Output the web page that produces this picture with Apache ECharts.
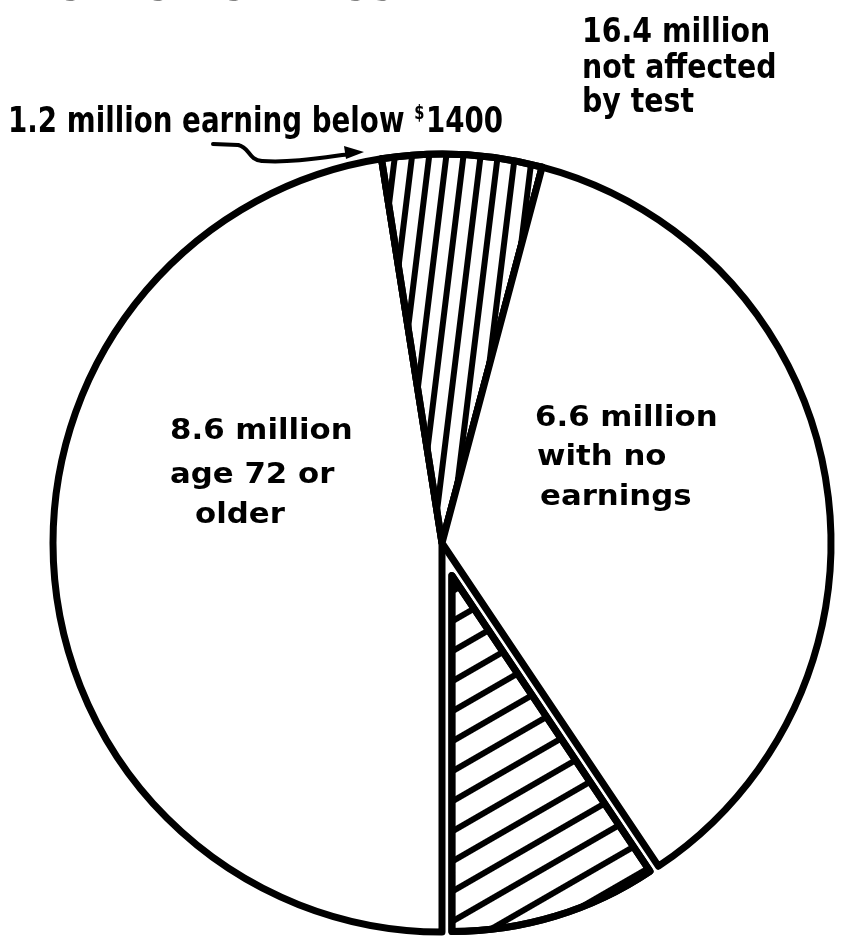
<!DOCTYPE html>
<html>
<head>
<meta charset="utf-8">
<script src="https://cdn.jsdelivr.net/npm/echarts@6/dist/echarts.min.js"></script>
<style>
html,body{margin:0;padding:0;background:#fff;}
#chart{width:842px;height:937px;}
</style>
</head>
<body>
<div id="chart"></div>
<script>
// ---- data ----
const categories = ['age 72 or older', 'earning below $1400', 'with no earnings', 'affected by test'];
const values = [8.6, 1.2, 6.6, 1.7];
const notAffectedTotal = 16.4;
const titleText = 'Retirement Test';
const label86 = ['8.6 million', 'age 72 or', 'older'];
const label66 = ['6.6 million', 'with no', 'earnings'];
const labelTotal = [notAffectedTotal + ' million', 'not affected', 'by test'];
const label12 = '1.2 million earning below ';
const label12Amount = '1400';

const chart = echarts.init(document.getElementById('chart'), null, {renderer: 'canvas'});

const FONT = 'DejaVu Sans';
const stripeTop = {symbol: 'rect', symbolSize: 1, symbolKeepAspect: false, color: '#000',
  dashArrayX: [1, 0], dashArrayY: [6, 11], rotation: -83 * Math.PI / 180};
const stripeBottom = {symbol: 'rect', symbolSize: 1, symbolKeepAspect: false, color: '#000',
  dashArrayX: [1, 0], dashArrayY: [6, 20], rotation: -30 * Math.PI / 180};

const border = {borderColor: '#000', borderWidth: 7, borderJoin: 'round'};
const hidden = {color: 'rgba(0,0,0,0)', borderWidth: 0};

const outerData = categories.map((c, i) => {
  const d = {name: c, value: values[i]};
  if (i === 3) d.itemStyle = hidden;
  else if (i === 1) d.itemStyle = Object.assign({color: '#fff', decal: stripeTop}, border);
  else d.itemStyle = Object.assign({color: '#fff'}, border);
  return d;
});
const innerData = categories.map((c, i) => {
  const d = {name: c, value: values[i]};
  if (i === 3) {
    d.itemStyle = Object.assign({color: '#fff', decal: stripeBottom}, border);
    d.selected = true;
  } else d.itemStyle = hidden;
  return d;
});

function textLines(lines, xs, ys, size, sx, weight) {
  return lines.map((t, i) => ({
    type: 'text', x: xs[i], y: ys[i], scaleX: sx, silent: true, z: 100,
    style: {x: 0, y: 0, text: t, font: weight + ' ' + size + 'px "' + FONT + '"',
      fill: '#000', verticalAlign: 'bottom', align: 'left'}
  }));
}

const arrowStyle = {fill: null, stroke: '#000', lineWidth: 4, lineCap: 'round'};
const graphics = [].concat(
  textLines([titleText], [20], [12], 50, 0.88, 'bold'),
  textLines(labelTotal, [582, 582, 582], [50, 86, 120], 33, 0.86, 'bold'),
  textLines(label86, [170, 170, 195], [446, 490, 530], 28, 1.1, 'bold'),
  textLines(label66, [535, 537, 540], [433, 472, 512], 28, 1.1, 'bold'),
  [{
    type: 'text', x: 8, y: 141, scaleX: 0.77, silent: true, z: 100,
    style: {x: 0, y: 0, font: 'bold 36px "' + FONT + '"', fill: '#000', verticalAlign: 'bottom',
      text: '{a|' + label12 + '}{s|$}{a|' + label12Amount + '}',
      rich: {a: {font: 'bold 36px "' + FONT + '"', fill: '#000'},
             s: {font: 'bold 19px "' + FONT + '"', fill: '#000', verticalAlign: 'top', padding: [0, 2, 16, 0]}}}
  },
  {type: 'line', silent: true, z: 100, shape: {x1: 213, y1: 144, x2: 238, y2: 145}, style: arrowStyle},
  {type: 'bezierCurve', silent: true, z: 100,
    shape: {x1: 238, y1: 145, cpx1: 250, cpy1: 147, cpx2: 248, cpy2: 160, x2: 262, y2: 161}, style: arrowStyle},
  {type: 'bezierCurve', silent: true, z: 100,
    shape: {x1: 262, y1: 161, cpx1: 290, cpy1: 163, cpx2: 320, cpy2: 158, x2: 350, y2: 154}, style: arrowStyle},
  {
    type: 'polygon', silent: true, z: 100,
    shape: {points: [[344, 146], [364, 152], [346, 159]]},
    style: {fill: '#000'}
  }]
);

chart.setOption({
  backgroundColor: '#fff',
  animation: false,
  series: [
    {
      type: 'pie', center: [442, 543], radius: 389, startAngle: -90, clockwise: true,
      silent: true, label: {show: false}, labelLine: {show: false},
      emphasis: {disabled: true}, data: outerData, z: 1
    },
    {
      type: 'pie', center: [442, 543], radius: 356, startAngle: -90, clockwise: true,
      silent: true, label: {show: false}, labelLine: {show: false},
      selectedMode: 'single', selectedOffset: 34,
      emphasis: {disabled: true}, data: innerData, z: 2
    }
  ],
  graphic: graphics
});
</script>
</body>
</html>
